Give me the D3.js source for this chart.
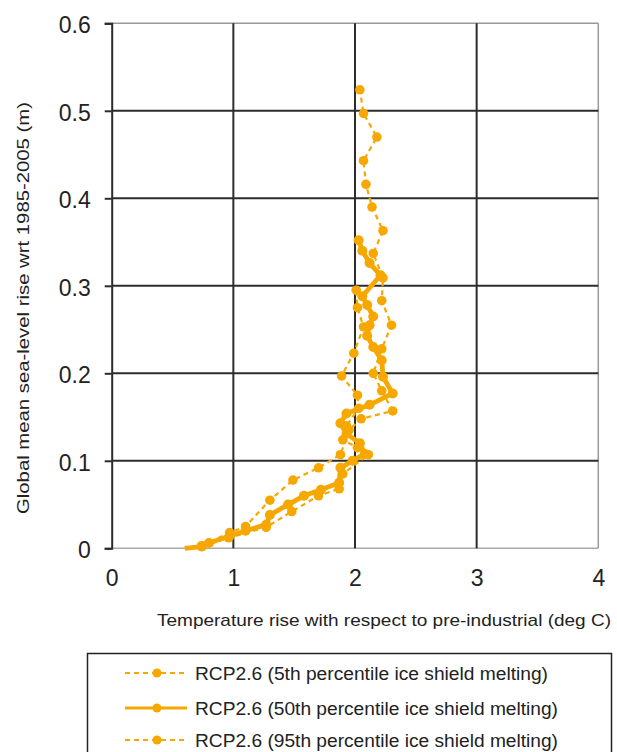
<!DOCTYPE html>
<html><head><meta charset="utf-8">
<script src="https://cdn.jsdelivr.net/npm/d3@7"></script>
<style>body{margin:0;background:#fff;} svg{display:block;font-family:"Liberation Sans",Arial,sans-serif;}</style>
</head><body>
<svg id="c" width="617" height="752"></svg>
<script>
// Data: [temperature (deg C), sea-level rise (m)]
const p05 = [[0.74,0.002],[0.96,0.012],[1.27,0.024],[1.48,0.042],[1.70,0.060],[1.87,0.068],[1.90,0.085],[2.11,0.107],[2.02,0.115],[1.90,0.124],[1.93,0.140],[2.03,0.160],[2.02,0.175],[1.89,0.197],[1.99,0.223],[2.07,0.253],[2.02,0.275],[2.01,0.295]];
const p50 = [[0.60,0.000],[0.74,0.002],[0.80,0.006],[0.97,0.014],[1.10,0.020],[1.27,0.027],[1.30,0.038],[1.45,0.050],[1.58,0.060],[1.72,0.067],[1.87,0.075],[1.88,0.092],[1.98,0.100],[2.08,0.108],[2.04,0.120],[1.93,0.131],[1.88,0.143],[1.93,0.154],[2.12,0.164],[2.31,0.177],[2.23,0.196],[2.22,0.215],[2.15,0.230],[2.10,0.243],[2.12,0.255],[2.15,0.265],[2.10,0.278],[2.06,0.288],[2.21,0.312],[2.12,0.326],[2.06,0.340],[2.03,0.352]];
const p95 = [[0.74,0.003],[0.97,0.018],[1.10,0.025],[1.30,0.055],[1.49,0.078],[1.70,0.092],[1.88,0.107],[1.95,0.135],[2.05,0.148],[2.31,0.157],[2.22,0.180],[2.15,0.200],[2.22,0.228],[2.30,0.255],[2.22,0.283],[2.23,0.309],[2.15,0.337],[2.23,0.363],[2.14,0.390],[2.09,0.416],[2.07,0.443],[2.18,0.470],[2.07,0.497],[2.04,0.524]];
const xTicks = [0,1,2,3,4];
const yTicks = [0,0.1,0.2,0.3,0.4,0.5,0.6];
const seriesNames = ["RCP2.6 (5th percentile ice shield melting)","RCP2.6 (50th percentile ice shield melting)","RCP2.6 (95th percentile ice shield melting)"];

const orange = "#F6A800";
const svg = d3.select("#c");
const x = d3.scaleLinear().domain([0,4]).range([111.7,598.3]);
const y = d3.scaleLinear().domain([0,0.6]).range([548.3,23.3]);

// border top/right (light)
svg.append("line").attr("x1",x(0)).attr("x2",x(4)).attr("y1",y(0.6)).attr("y2",y(0.6)).attr("stroke","#999").attr("stroke-width",1.5);
svg.append("line").attr("x1",x(4)).attr("x2",x(4)).attr("y1",y(0.6)).attr("y2",y(0)).attr("stroke","#999").attr("stroke-width",1.5);
svg.append("line").attr("x1",x(0)).attr("x2",x(4)).attr("y1",y(0)).attr("y2",y(0)).attr("stroke","#aaa").attr("stroke-width",1.5);

// gridlines
const g = svg.append("g");
g.selectAll(".hg").data(yTicks.filter(d=>d>0 && d<0.6)).join("line")
  .attr("x1",x(0)).attr("x2",x(4)).attr("y1",d=>y(d)).attr("y2",d=>y(d)).attr("stroke","#2c2c2c").attr("stroke-width",2);
g.selectAll(".vg").data(xTicks.filter(d=>d>0 && d<4)).join("line")
  .attr("x1",d=>x(d)).attr("x2",d=>x(d)).attr("y1",y(0)).attr("y2",y(0.6)).attr("stroke","#2c2c2c").attr("stroke-width",2);

// y axis
const ya = svg.append("g").attr("transform",`translate(${x(0)},0)`)
  .call(d3.axisLeft(y).tickValues(yTicks).tickFormat(d=>d===0?"0":d3.format(".1f")(d)).tickSize(7).tickPadding(14));
ya.select(".domain").attr("stroke","#2c2c2c").attr("stroke-width",2);
ya.selectAll(".tick line").attr("stroke","#2c2c2c").attr("stroke-width",2);
ya.selectAll("text").attr("font-size",23).attr("fill","#222").attr("dy","0.42em").attr("font-family","Liberation Sans, Arial, sans-serif");

// x axis labels
const xa = svg.append("g").attr("transform",`translate(0,${y(0)})`)
  .call(d3.axisBottom(x).tickValues(xTicks).tickFormat(d3.format("d")).tickSize(0).tickPadding(31));
xa.select(".domain").remove();
xa.selectAll("text").attr("font-size",23).attr("fill","#222").attr("dy","0.3em").attr("font-family","Liberation Sans, Arial, sans-serif");

// axis titles
svg.append("text").attr("x",384).attr("y",626).attr("text-anchor","middle").attr("font-size",17).attr("fill","#222")
  .attr("textLength",454).attr("lengthAdjust","spacingAndGlyphs")
  .text("Temperature rise with respect to pre-industrial (deg C)");
svg.append("text").attr("transform","translate(29,308) rotate(-90)").attr("text-anchor","middle").attr("font-size",17).attr("fill","#222")
  .attr("textLength",412).attr("lengthAdjust","spacingAndGlyphs")
  .text("Global mean sea-level rise wrt 1985-2005 (m)");

// series
const line = d3.line().x(d=>x(d[0])).y(d=>y(d[1]));
const sdef = [
  {data:p05, w:2.2, dash:"5,4", r:4.8},
  {data:p95, w:2.2, dash:"5,4", r:4.8},
  {data:p50, w:4.8, dash:null, r:5}
];
sdef.forEach(s=>{
  svg.append("path").datum(s.data).attr("d",line).attr("fill","none").attr("stroke",orange)
    .attr("stroke-width",s.w).attr("stroke-dasharray",s.dash).attr("stroke-linejoin","round");
  svg.append("g").selectAll("circle").data(s.data.slice(s.data[0][1]===0?1:0)).join("circle")
    .attr("cx",d=>x(d[0])).attr("cy",d=>y(d[1])).attr("r",s.r).attr("fill",orange);
});

// legend
svg.append("rect").attr("x",87.5).attr("y",653.5).attr("width",524).attr("height",120).attr("fill","none").attr("stroke","#222").attr("stroke-width",1.5);
const legY = [673,708,740];
const legStyle = [{w:2,dash:"5,4"},{w:3,dash:null},{w:2,dash:"5,4"}];
seriesNames.forEach((n,i)=>{
  svg.append("line").attr("x1",125).attr("x2",187).attr("y1",legY[i]).attr("y2",legY[i]).attr("stroke",orange)
    .attr("stroke-width",legStyle[i].w).attr("stroke-dasharray",legStyle[i].dash);
  svg.append("circle").attr("cx",157).attr("cy",legY[i]).attr("r",4.5).attr("fill",orange);
  svg.append("text").attr("x",195).attr("y",legY[i]+7).attr("font-size",18).attr("fill","#222")
    .attr("textLength",i===0?353:363).attr("lengthAdjust","spacingAndGlyphs").text(n);
});
</script>
</body></html>
